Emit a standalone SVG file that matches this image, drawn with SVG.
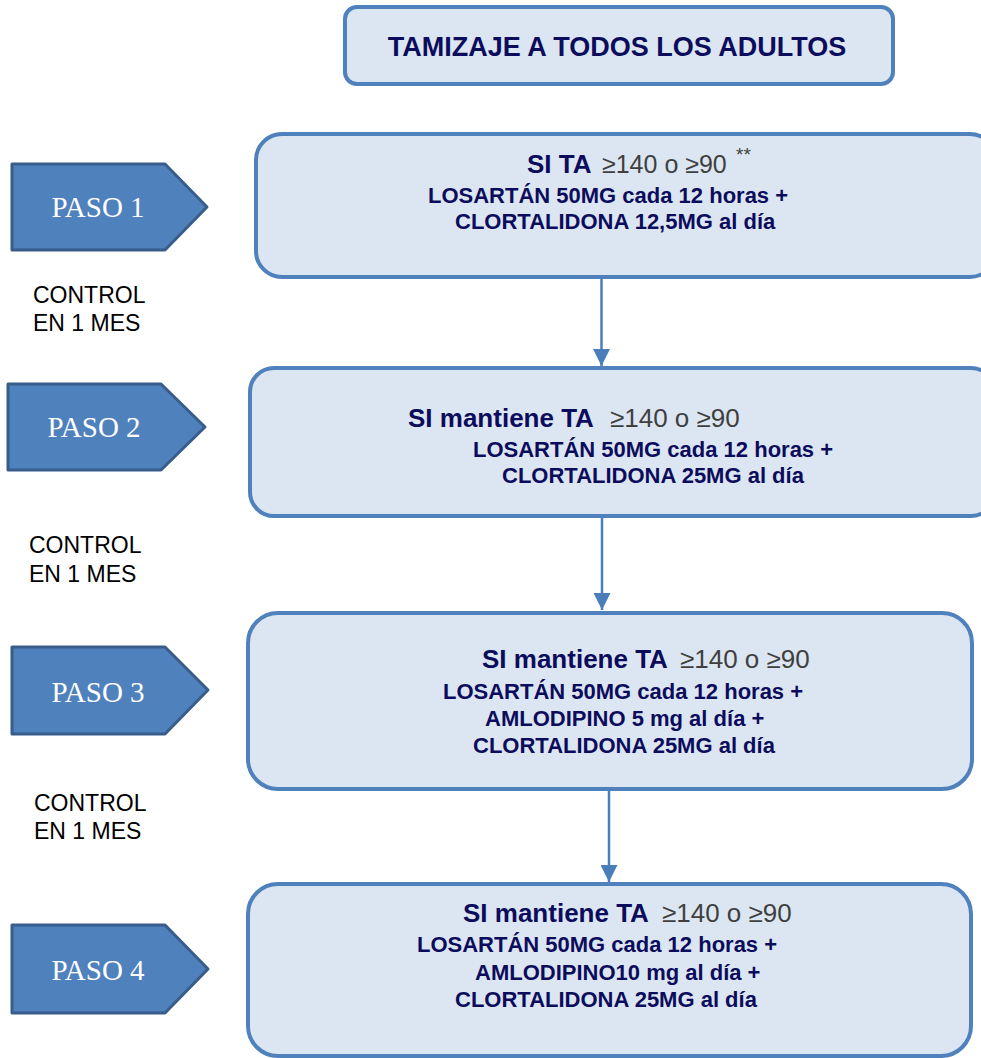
<svg xmlns="http://www.w3.org/2000/svg" width="981" height="1058" viewBox="0 0 981 1058">
<style>
.box{fill:#dce6f2;stroke:#4f81bd;stroke-width:4}
.paso{fill:#4f81bd;stroke:#385d8a;stroke-width:3;stroke-linejoin:round}
.pt{font-family:"Liberation Serif","Times New Roman",serif;font-size:29px;fill:#ffffff;text-anchor:middle}
.ctl{font-family:"Liberation Sans",Arial,sans-serif;font-size:23px;fill:#000000}
.t{font-family:"Liberation Sans",Arial,sans-serif;font-weight:bold;font-size:22px;fill:#0c0c5c}
.h{font-family:"Liberation Sans",Arial,sans-serif;font-weight:bold;font-size:26px;fill:#0c0c5c}
.ti{font-family:"Liberation Sans",Arial,sans-serif;font-weight:bold;font-size:27px;fill:#0c0c5c}
.g{font-weight:normal;fill:#3f3f3f}
.sup{font-family:"Liberation Sans",Arial,sans-serif;font-size:19px;fill:#3f3f3f}
.conn{stroke:#4a7ebb;stroke-width:2.5;fill:none}
</style>
<defs>
<marker id="ah" markerUnits="userSpaceOnUse" markerWidth="17" markerHeight="17" refX="17" refY="8.5" orient="auto">
<path d="M0,0 L17,8.5 L0,17 z" fill="#4a7ebb"/>
</marker>
</defs>
<g id="connectors">
<line class="conn" x1="601.5" y1="279" x2="601.5" y2="366" marker-end="url(#ah)"/>
<line class="conn" x1="602" y1="518" x2="602" y2="610" marker-end="url(#ah)"/>
<line class="conn" x1="609" y1="791" x2="609" y2="882" marker-end="url(#ah)"/>
</g>
<g id="title">
<rect class="box" x="345" y="7" width="548" height="77" rx="12"/>
<text class="ti" x="617" y="56" text-anchor="middle">TAMIZAJE A TODOS LOS ADULTOS</text>
</g>
<g id="step1">
<rect class="box" x="256" y="134" width="740" height="143" rx="26"/>
<text class="h" x="527" y="173">SI TA<tspan class="g" x="602" font-size="25px">≥140 o ≥90</tspan></text>
<text class="sup" x="736" y="161">**</text>
<text class="t" x="428" y="203">LOSARTÁN 50MG cada 12 horas +</text>
<text class="t" x="455" y="229">CLORTALIDONA 12,5MG al día</text>
</g>
<g id="step2">
<rect class="box" x="250" y="368" width="745" height="148" rx="24"/>
<text class="h" x="408" y="427">SI mantiene TA<tspan class="g" x="610">≥140 o ≥90</tspan></text>
<text class="t" x="473" y="457">LOSARTÁN 50MG cada 12 horas +</text>
<text class="t" x="502" y="483">CLORTALIDONA 25MG al día</text>
</g>
<g id="step3">
<rect class="box" x="248" y="613" width="724" height="176" rx="30"/>
<text class="h" x="482" y="668">SI mantiene TA<tspan class="g" x="680">≥140 o ≥90</tspan></text>
<text class="t" x="443" y="699">LOSARTÁN 50MG cada 12 horas +</text>
<text class="t" x="485" y="726">AMLODIPINO 5 mg al día +</text>
<text class="t" x="473" y="753">CLORTALIDONA 25MG al día</text>
</g>
<g id="step4">
<rect class="box" x="248" y="884" width="723" height="172" rx="30"/>
<text class="h" x="463" y="922">SI mantiene TA<tspan class="g" x="662">≥140 o ≥90</tspan></text>
<text class="t" x="417" y="952">LOSARTÁN 50MG cada 12 horas +</text>
<text class="t" x="475" y="980">AMLODIPINO10 mg al día +</text>
<text class="t" x="455" y="1007">CLORTALIDONA 25MG al día</text>
</g>
<g id="paso1">
<polygon class="paso" points="12,164 165,164 207,207 165,250 12,250"/>
<text class="pt" x="98" y="217">PASO 1</text>
</g>
<g id="paso2">
<polygon class="paso" points="8,384 161,384 205,427 161,470 8,470"/>
<text class="pt" x="94" y="437">PASO 2</text>
</g>
<g id="paso3">
<polygon class="paso" points="12,647 165,647 208,690 165,734 12,734"/>
<text class="pt" x="98" y="702">PASO 3</text>
</g>
<g id="paso4">
<polygon class="paso" points="12,925 165,925 208,969 165,1013 12,1013"/>
<text class="pt" x="98" y="980">PASO 4</text>
</g>
<g id="control1">
<text class="ctl" x="33" y="303">CONTROL</text>
<text class="ctl" x="33" y="331">EN 1 MES</text>
</g>
<g id="control2">
<text class="ctl" x="29" y="553">CONTROL</text>
<text class="ctl" x="29" y="582">EN 1 MES</text>
</g>
<g id="control3">
<text class="ctl" x="34" y="811">CONTROL</text>
<text class="ctl" x="34" y="839">EN 1 MES</text>
</g>
</svg>
